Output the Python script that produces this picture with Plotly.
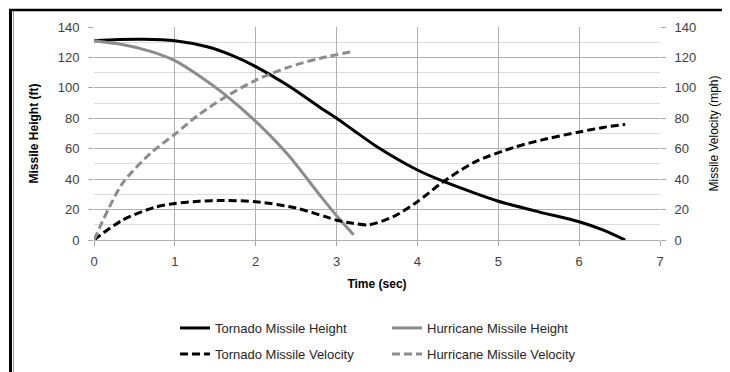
import plotly.graph_objects as go

# Tornado missile height (ft)
t_torn_h = [0, 0.3, 0.6, 1.0, 1.4, 1.7, 2.0, 2.4, 2.8, 3.0, 3.2, 3.5, 4.0, 4.3, 4.7, 5.0, 5.5, 6.0, 6.3, 6.57]
torn_h = [131, 131.8, 132, 131, 127, 121.5, 114, 101.5, 87, 80, 72.5, 61.3, 46, 39, 31, 25.5, 18.5, 12, 6.5, 0]

# Hurricane missile height (ft)
t_hurr_h = [0, 0.35, 0.7, 1.0, 1.3, 1.6, 2.0, 2.4, 2.8, 3.0, 3.21]
hurr_h = [131, 128.5, 124, 117.9, 108, 96.4, 78, 56, 29, 16, 3.5]

# Tornado missile velocity (mph)
t_torn_v = [0, 0.35, 0.75, 1.0, 1.3, 1.6, 2.0, 2.5, 2.85, 3.0, 3.2, 3.4, 3.7, 4.0, 4.3, 4.7, 5.2, 5.6, 6.0, 6.3, 6.57]
torn_v = [0, 13, 21.5, 24, 25.5, 26, 25.2, 21, 15.5, 13, 11, 10, 15.3, 25.2, 37.5, 51, 61, 66.5, 71, 74, 76]

# Hurricane missile velocity (mph)
t_hurr_v = [0, 0.35, 0.7, 1.0, 1.3, 1.6, 2.0, 2.4, 2.8, 3.21]
hurr_v = [0, 37, 57, 69.5, 82.5, 93.2, 105, 113.5, 119.5, 124]

x_ticks = [0, 1, 2, 3, 4, 5, 6, 7]
y_ticks = [0, 20, 40, 60, 80, 100, 120, 140]

FONT = "Liberation Sans"

# page body has an 8px margin; figure sized/placed to compensate
W, H = 722, 364
L, T, PW, PH = 86, 19, 566, 213


def px_x(px):  # window pixel -> paper x
    return (px - 8 - L) / PW


def px_y(py):  # window pixel -> paper y
    return (T + PH - (py - 8)) / PH


fig = go.Figure()
fig.add_trace(go.Scatter(x=t_torn_h, y=torn_h, mode="lines", name="Tornado Missile Height",
                         line=dict(color="#000000", width=3, shape="spline", smoothing=0.8), legend="legend"))
fig.add_trace(go.Scatter(x=t_hurr_h, y=hurr_h, mode="lines", name="Hurricane Missile Height",
                         line=dict(color="#8c8c8c", width=3, shape="spline", smoothing=0.8), legend="legend"))
fig.add_trace(go.Scatter(x=t_torn_v, y=torn_v, mode="lines", name="Tornado Missile Velocity", yaxis="y2",
                         line=dict(color="#000000", width=3, dash="8px,4px", shape="spline", smoothing=0.8), legend="legend2"))
fig.add_trace(go.Scatter(x=t_hurr_v, y=hurr_v, mode="lines", name="Hurricane Missile Velocity", yaxis="y2",
                         line=dict(color="#8c8c8c", width=3, dash="8px,4px", shape="spline", smoothing=0.8), legend="legend2"))

tickfont = dict(family=FONT, size=13, color="#404040")
axis_common = dict(range=[0, 140], tickvals=y_ticks, ticks="outside", ticklen=5, tickcolor="#a6a6a6",
                   showline=False, zeroline=False, tickfont=tickfont, ticklabelstandoff=6)
legfont = dict(family=FONT, size=13, color="#262626")

fig.update_layout(
    width=W, height=H,
    margin=dict(l=L, r=W - L - PW, t=T, b=H - T - PH, autoexpand=False),
    paper_bgcolor="white", plot_bgcolor="white",
    font=dict(family=FONT, color="#000000"),
    xaxis=dict(range=[0, 7], tickvals=x_ticks, ticks="outside", ticklen=5, tickcolor="#a6a6a6",
               showgrid=True, gridcolor="#b0b0b0", gridwidth=1, zeroline=False,
               showline=True, linecolor="#b0b0b0", tickfont=tickfont, ticklabelstandoff=4,
               title=dict(text="<b>Time (sec)</b>", font=dict(family=FONT, size=12), standoff=12)),
    yaxis=dict(**axis_common, showgrid=True, gridcolor="#b0b0b0", gridwidth=1,
               minor=dict(dtick=10, showgrid=True, gridcolor="#dcdcdc", gridwidth=1),
               title=dict(text="<b>Missile Height (ft)</b>", font=dict(family=FONT, size=12), standoff=16)),
    yaxis2=dict(**axis_common, overlaying="y", side="right", showgrid=False,
                title=dict(text="Missile Velocity (mph)", font=dict(family=FONT, size=12, color="#000000"), standoff=14)),
    legend=dict(orientation="h", x=px_x(175), xanchor="left", y=px_y(313), yanchor="top",
                entrywidth=167, entrywidthmode="pixels", font=legfont,
                bgcolor="rgba(0,0,0,0)", itemwidth=30),
    legend2=dict(orientation="h", x=px_x(175), xanchor="left", y=px_y(339), yanchor="top",
                 entrywidth=167, entrywidthmode="pixels", font=legfont,
                 bgcolor="rgba(0,0,0,0)", itemwidth=30),
    shapes=[
        dict(type="line", xref="paper", yref="paper", x0=px_x(10.5), x1=px_x(10.5),
             y0=px_y(9), y1=px_y(380), line=dict(color="black", width=3)),
        dict(type="line", xref="paper", yref="paper", x0=px_x(13.5), x1=px_x(13.5),
             y0=px_y(11), y1=px_y(380), line=dict(color="#9a9a9a", width=1)),
        dict(type="line", xref="paper", yref="paper", x0=px_x(9), x1=px_x(740),
             y0=px_y(10), y1=px_y(10), line=dict(color="black", width=2.5)),
    ],
)

fig.write_html("out.html")
